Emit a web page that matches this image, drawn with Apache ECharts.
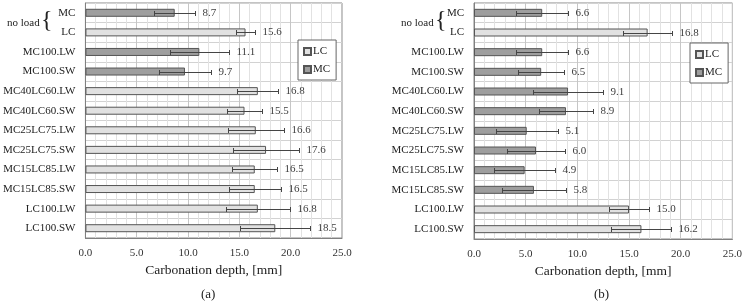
<!DOCTYPE html>
<html>
<head>
<meta charset="utf-8">
<script src="https://cdn.jsdelivr.net/npm/echarts@6/dist/echarts.min.js"></script>
<style>
  html, body { margin: 0; padding: 0; background: #fff; }
  #chart { width: 745px; height: 305px; }
</style>
</head>
<body>
<div id="chart"></div>
<script>
// categories, top to bottom
const categories = ['MC', 'LC', 'MC100.LW', 'MC100.SW', 'MC40LC60.LW', 'MC40LC60.SW',
  'MC25LC75.LW', 'MC25LC75.SW', 'MC15LC85.LW', 'MC15LC85.SW', 'LC100.LW', 'LC100.SW'];

// (a)
const depthA = [8.7, 15.6, 11.1, 9.7, 16.8, 15.5, 16.6, 17.6, 16.5, 16.5, 16.8, 18.5];
const errA = [2.0, 0.9, 2.9, 2.55, 2.0, 1.7, 2.7, 3.2, 2.2, 2.55, 3.1, 3.4];
const groupA = ['MC', 'LC', 'MC', 'MC', 'LC', 'LC', 'LC', 'LC', 'LC', 'LC', 'LC', 'LC'];

// (b)
const depthB = [6.6, 16.8, 6.6, 6.5, 9.1, 8.9, 5.1, 6.0, 4.9, 5.8, 15.0, 16.2];
const errB = [2.5, 2.4, 2.5, 2.2, 3.4, 2.6, 3.0, 2.85, 2.95, 3.1, 1.9, 2.9];
const groupB = ['MC', 'LC', 'MC', 'MC', 'MC', 'MC', 'MC', 'MC', 'MC', 'MC', 'LC', 'LC'];

const xTicks = [0, 5, 10, 15, 20, 25];
const xTitle = 'Carbonation depth, [mm]';

const FONT = '"Liberation Serif", "DejaVu Serif", serif';
const colors = { LC: '#e1e1e1', MC: '#9e9e9e' };

const chart = echarts.init(document.getElementById('chart'));

function crisp(v) { return Math.round(v) + 0.5; }

function errItem(params, api) {
  const cat = api.value(0);
  const v = api.value(1);
  const e = api.value(2);
  const lo = api.coord([v - e, cat]);
  const hi = api.coord([v + e, cat]);
  const y = crisp(lo[1]);
  const x1 = crisp(lo[0]), x2 = crisp(hi[0]);
  const st = { stroke: '#454545', lineWidth: 1 };
  return {
    type: 'group',
    children: [
      { type: 'line', shape: { x1: x1, y1: y, x2: x2, y2: y }, style: st },
      { type: 'line', shape: { x1: x1, y1: y - 2.5, x2: x1, y2: y + 2.5 }, style: st },
      { type: 'line', shape: { x1: x2, y1: y - 2.5, x2: x2, y2: y + 2.5 }, style: st },
      {
        type: 'text', x: x2 + 7, y: y,
        style: { text: v.toFixed(1), fill: '#404040', font: '11px ' + FONT, verticalAlign: 'middle' }
      }
    ]
  };
}

function panel(idx, depth, err, group) {
  const mk = (name) => ({
    name: name,
    type: 'bar',
    xAxisIndex: idx, yAxisIndex: idx,
    stack: 'p' + idx,
    barWidth: 8,
    itemStyle: { color: colors[name], borderColor: '#555', borderWidth: 1 },
    data: depth.map((d, i) => group[i] === name ? d : '-'),
    z: 2
  });
  return [
    mk('LC'),
    mk('MC'),
    {
      type: 'custom',
      xAxisIndex: idx, yAxisIndex: idx,
      renderItem: errItem,
      encode: { x: 1, y: 0 },
      data: depth.map((d, i) => [i, d, err[i]]),
      silent: true,
      z: 5
    }
  ];
}

function xAxis(idx) {
  return {
    gridIndex: idx,
    type: 'value',
    min: 0, max: 25, interval: 5,
    name: xTitle,
    nameLocation: 'middle',
    nameGap: 25,
    nameTextStyle: { fontFamily: FONT, fontSize: 13.5, color: '#1a1a1a' },
    axisLine: { show: true, lineStyle: { color: '#808080' } },
    axisTick: { show: false },
    axisLabel: {
      fontFamily: FONT, fontSize: 11, color: '#333', margin: 10,
      formatter: (v) => xTicks.includes(v) ? v.toFixed(1) : ''
    },
    splitLine: { show: true, lineStyle: { color: '#c6c6c6' } },
    minorTick: { show: false, splitNumber: 5 },
    minorSplitLine: { show: true, lineStyle: { color: '#e2e2e2' } }
  };
}

function yAxis(idx) {
  return {
    gridIndex: idx,
    type: 'category',
    inverse: true,
    data: categories,
    axisLine: { show: true, lineStyle: { color: '#808080' } },
    axisTick: { show: false },
    axisLabel: { fontFamily: FONT, fontSize: 11, color: '#222', margin: 10 },
    splitLine: { show: true, lineStyle: { color: '#d2d2d2' } }
  };
}

function legend(left, top) {
  return {
    data: ['LC', 'MC'],
    orient: 'vertical',
    left: left, top: top,
    itemWidth: 7, itemHeight: 7,
    itemGap: 7,
    icon: 'rect',
    padding: [6, 6, 5, 5],
    backgroundColor: '#fff',
    borderColor: '#666',
    borderWidth: 1,
    borderRadius: 0,
    selectedMode: false,
    textStyle: { fontFamily: FONT, fontSize: 11, color: '#222', padding: [0, 0, 0, -3] }
  };
}

function noLoad(xText, xBrace) {
  return [
    { type: 'text', left: xText, top: 18, style: { text: 'no load', font: '11px ' + FONT, fill: '#222' } },
    { type: 'text', left: xBrace, top: 9, style: { text: '{', font: '24px ' + FONT, fill: '#222' } }
  ];
}

const option = {
  animation: false,
  grid: [
    { left: 82, top: 3, width: 260, height: 235, show: true, borderColor: '#888', borderWidth: 1, backgroundColor: 'transparent' },
    { left: 474, top: 3, width: 259, height: 236, show: true, borderColor: '#888', borderWidth: 1, backgroundColor: 'transparent' }
  ],
  xAxis: [xAxis(0), xAxis(1)],
  yAxis: [yAxis(0), yAxis(1)],
  legend: [legend(298, 40), legend(690, 43)],
  graphic: [
    ...noLoad(7, 41),
    ...noLoad(401, 435),
    { type: 'text', left: 201, top: 288, style: { text: '(a)', font: '13px ' + FONT, fill: '#222' } },
    { type: 'text', left: 594, top: 288, style: { text: '(b)', font: '13px ' + FONT, fill: '#222' } }
  ],
  series: [
    ...panel(0, depthA, errA, groupA),
    ...panel(1, depthB, errB, groupB)
  ]
};

chart.setOption(option);
</script>
</body>
</html>
